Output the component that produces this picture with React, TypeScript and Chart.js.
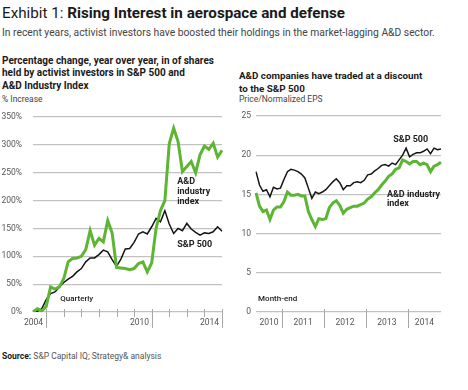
import React, { useEffect, useRef } from "react";
import { Chart, registerables } from "chart.js";
Chart.register(...registerables);

const FONT = "Roboto, 'Noto Sans', sans-serif";
const GREEN = "#5cb533";
const BLACK = "#151515";
const GRID = "#c2c2c2";
const AXIS_TXT = "#555";

// ---------- Left chart: quarterly, Q1 2004 .. Q4 2014 ----------
const quarterYears = [2004, 2005, 2006, 2007, 2008, 2009, 2010, 2011, 2012, 2013, 2014];
const quarterNames = ["Q1", "Q2", "Q3", "Q4"];
const quarters = quarterYears.flatMap((y) => quarterNames.map((q) => `${q} ${y}`));

const activistAD = [
  0, 6, 2, 10, 45, 41, 45, 60, 90, 96, 97, 100,
  112, 146, 120, 132, 126, 164, 142, 80, 79, 78, 76, 78,
  87, 90, 72, 88, 150, 182, 200, 302, 330, 306, 252, 261,
  270, 250, 282, 298, 292, 303, 278, 290,
];
const activistSP = [
  0, 1, 6, 22, 33, 36, 45, 53, 59, 64, 72, 78,
  90, 97, 97, 103, 111, 108, 94, 82, 95, 113, 114, 125,
  140, 144, 140, 153, 168, 162, 182, 158, 141, 150, 146, 159,
  149, 143, 138, 142, 141, 144, 153, 145,
];
const leftYMax = 350;
const leftYStep = 50;
const leftYearLabels = ["2004", "2010", "2014"];

// ---------- Right chart: month-end, May 2010 .. Oct 2014 ----------
const monthNames = ["Jan", "Feb", "Mar", "Apr", "May", "Jun", "Jul", "Aug", "Sep", "Oct", "Nov", "Dec"];
const monthYears = [2010, 2011, 2012, 2013, 2014];
const months = monthYears
  .flatMap((y) => monthNames.map((m) => `${m} ${y}`))
  .filter((_, i) => i >= 4 && i <= 57);

const peSP = [
  17.9, 16.2, 15.4, 15.6, 14.7, 15.9, 15.7, 15.8, 16.9, 17.9, 18.2, 18.1,
  17.9, 17.6, 17.1, 15.8, 14.5, 15.3, 15.1, 15.3, 15.6, 16.1, 16.6, 17.0,
  16.5, 15.6, 16.1, 16.1, 16.5, 16.6, 16.5, 16.8, 17.5, 17.6, 18.0, 18.3,
  18.7, 18.8, 18.6, 19.0, 18.8, 19.4, 20.0, 20.9, 19.8, 20.1, 20.3, 20.3,
  20.5, 20.8, 20.2, 20.9, 20.7, 20.8,
];
const peAD = [
  15.2, 13.5, 12.8, 13.0, 11.8, 13.0, 13.4, 13.4, 14.1, 15.3, 14.9, 14.9,
  15.0, 14.8, 14.8, 12.8, 11.8, 10.9, 11.9, 11.8, 11.9, 13.3, 13.9, 14.2,
  13.6, 12.6, 13.1, 13.3, 13.5, 13.5, 13.7, 13.9, 14.4, 14.7, 15.2, 15.6,
  16.2, 16.7, 17.3, 17.6, 18.2, 18.4, 19.4, 19.2, 18.9, 19.2, 19.2, 18.8,
  19.0, 18.8, 17.9, 18.6, 18.8, 19.1,
];
const rightYMax = 25;
const rightYStep = 5;

type Note = { text: string; x: number; y: number };

const leftNotes: Note[] = [
  { text: "Quarterly", x: 6.2, y: 23 },
  { text: "S&P 500", x: 32.8, y: 120 },
  { text: "A&D", x: 32.8, y: 234 },
  { text: "industry", x: 32.8, y: 216 },
  { text: "index", x: 32.8, y: 198 },
];
const rightNotes: Note[] = [
  { text: "S&P 500", x: 39.3, y: 22.0 },
  { text: "A&D industry", x: 37.5, y: 15.0 },
  { text: "index", x: 37.5, y: 13.8 },
  { text: "Month-end", x: 0.6, y: 1.7 },
];

function yearBoundaries(labels: string[]) {
  const out: { pos: number; year: string }[] = [];
  for (let i = 1; i < labels.length; i++) {
    const a = labels[i - 1].split(" ")[1];
    const b = labels[i].split(" ")[1];
    if (a !== b) out.push({ pos: i - 0.5, year: b });
  }
  return out;
}

function makeAxisPlugin(kind: "left" | "right", notes: Note[], labels: string[]) {
  return {
    id: "customAxis" + kind,
    afterDraw(chart: any) {
      const ctx: CanvasRenderingContext2D = chart.ctx;
      const xs = chart.scales.x;
      const ys = chart.scales.y;
      const base = ys.getPixelForValue(0);
      ctx.save();
      ctx.strokeStyle = "#a8a8a8";
      ctx.lineWidth = 1;
      ctx.fillStyle = AXIS_TXT;
      ctx.font = `8.5px ${FONT}`;
      ctx.textBaseline = "middle";
      if (kind === "left") {
        const bounds: number[] = [];
        labels.forEach((l, i) => {
          if (l.startsWith("Q4")) bounds.push(i);
        });
        const longYears = ["2004", "2010", "2014"];
        bounds.forEach((i) => {
          const yr = labels[i].split(" ")[1];
          const isLong = longYears.includes(yr);
          const px = Math.round(xs.getPixelForValue(i)) + 0.5;
          ctx.beginPath();
          ctx.moveTo(px, base - 3);
          ctx.lineTo(px, base + (isLong ? 16 : 5));
          ctx.stroke();
          if (leftYearLabels.includes(yr)) {
            ctx.textAlign = "right";
            ctx.fillText(yr, px - 3.5, base + 11);
          }
        });
      } else {
        const b = yearBoundaries(labels);
        b.forEach((bd) => {
          const px = Math.round(xs.getPixelForValue(bd.pos)) + 0.5;
          ctx.beginPath();
          ctx.moveTo(px, base - 3);
          ctx.lineTo(px, base + 16);
          ctx.stroke();
        });
        const segs = [0, ...b.map((d) => d.pos), labels.length - 1];
        const yrs = [labels[0].split(" ")[1], ...b.map((d) => d.year)];
        yrs.forEach((yr, k) => {
          const c = (segs[k] + segs[k + 1]) / 2;
          ctx.textAlign = "center";
          ctx.fillText(yr, xs.getPixelForValue(c), base + 11);
        });
      }
      ctx.fillStyle = "#222";
      ctx.textAlign = "left";
      notes.forEach((n) => {
        const bold = n.text !== "Quarterly" && n.text !== "Month-end";
        ctx.font = bold ? `bold 9px ${FONT}` : `500 8px ${FONT}`;
        ctx.fillText(n.text, xs.getPixelForValue(n.x), ys.getPixelForValue(n.y));
      });
      ctx.restore();
    },
  };
}

function LineChart(props: {
  labels: string[];
  green: number[];
  black: number[];
  yMax: number;
  yStep: number;
  suffix: string;
  yWidth: number;
  yPad: number;
  padding: { top: number; right: number; bottom: number; left: number };
  kind: "left" | "right";
  notes: Note[];
  style: React.CSSProperties;
}) {
  const ref = useRef<HTMLCanvasElement>(null);
  useEffect(() => {
    const chart = new Chart(ref.current!, {
      type: "line",
      data: {
        labels: props.labels,
        datasets: [
          {
            data: props.green,
            borderColor: GREEN,
            borderWidth: 3,
            pointRadius: 0,
            tension: 0,
            borderJoinStyle: "miter",
          },
          {
            data: props.black,
            borderColor: BLACK,
            borderWidth: 1.5,
            pointRadius: 0,
            tension: 0,
          },
        ],
      },
      options: {
        responsive: false,
        animation: false,
        events: [],
        layout: { padding: props.padding },
        plugins: { legend: { display: false }, tooltip: { enabled: false } },
        scales: {
          x: { type: "category", display: false },
          y: {
            min: 0,
            max: props.yMax,
            afterFit: (s: any) => {
              s.width = props.yWidth;
            },
            border: { display: false },
            grid: { color: GRID, lineWidth: 1.2, drawTicks: false },
            ticks: {
              stepSize: props.yStep,
              padding: props.yPad,
              color: AXIS_TXT,
              font: { family: FONT, size: 8.5 },
              callback: (v: any) => `${v}${props.suffix}`,
            },
          },
        },
      },
      plugins: [makeAxisPlugin(props.kind, props.notes, props.labels)],
    });
    return () => chart.destroy();
  }, []);
  return <canvas ref={ref} width={234} height={240} style={props.style} />;
}

const txt = (s: React.CSSProperties): React.CSSProperties => ({
  position: "absolute",
  whiteSpace: "nowrap",
  fontFamily: FONT,
  margin: 0,
  ...s,
});

export default function App() {
  return (
    <div
      style={{
        position: "absolute",
        left: 0,
        top: 0,
        width: 468,
        height: 390,
        background: "#fff",
        overflow: "hidden",
      }}
    >
      <div style={txt({ left: 2, top: 4, fontSize: 15.2, lineHeight: "19px", color: "#1a1a1a" })}>
        Exhibit 1: <b>Rising Interest in aerospace and defense</b>
      </div>
      <div style={txt({ left: 2, top: 27, fontSize: 10.3, lineHeight: "12px", color: "#444" })}>
        In recent years, activist investors have boosted their holdings in the market-lagging A&amp;D sector.
      </div>
      <div
        style={txt({ left: 2, top: 55, fontSize: 10, lineHeight: "12.3px", color: "#1a1a1a", fontWeight: "bold" })}
      >
        Percentage change, year over year, in of shares
        <br />
        held by activist investors in S&amp;P 500 and
        <br />
        A&amp;D Industry Index
      </div>
      <div style={txt({ left: 2, top: 94, fontSize: 8.5, lineHeight: "11px", color: "#444" })}>% Increase</div>
      <div
        style={txt({ left: 239, top: 70, fontSize: 9.8, lineHeight: "12.5px", color: "#1a1a1a", fontWeight: "bold" })}
      >
        A&amp;D companies have traded at a discount
        <br />
        to the S&amp;P 500
      </div>
      <div style={txt({ left: 239, top: 94, fontSize: 8.5, lineHeight: "11px", color: "#444" })}>
        Price/Normalized EPS
      </div>

      <LineChart
        labels={quarters}
        green={activistAD}
        black={activistSP}
        yMax={leftYMax}
        yStep={leftYStep}
        suffix="%"
        yWidth={33}
        yPad={11}
        padding={{ top: 17, right: 12, bottom: 28, left: 0 }}
        kind="left"
        notes={leftNotes}
        style={{ position: "absolute", left: 0, top: 100 }}
      />
      <LineChart
        labels={months}
        green={peAD}
        black={peSP}
        yMax={rightYMax}
        yStep={rightYStep}
        suffix=""
        yWidth={22}
        yPad={5}
        padding={{ top: 16, right: 27, bottom: 28, left: 0 }}
        kind="right"
        notes={rightNotes}
        style={{ position: "absolute", left: 234, top: 100 }}
      />

      <div style={txt({ left: 2, top: 351, fontSize: 8.5, lineHeight: "11px", color: "#555" })}>
        <b style={{ color: "#1a1a1a" }}>Source:</b> S&amp;P Capital IQ; Strategy&amp; analysis
      </div>
    </div>
  );
}
